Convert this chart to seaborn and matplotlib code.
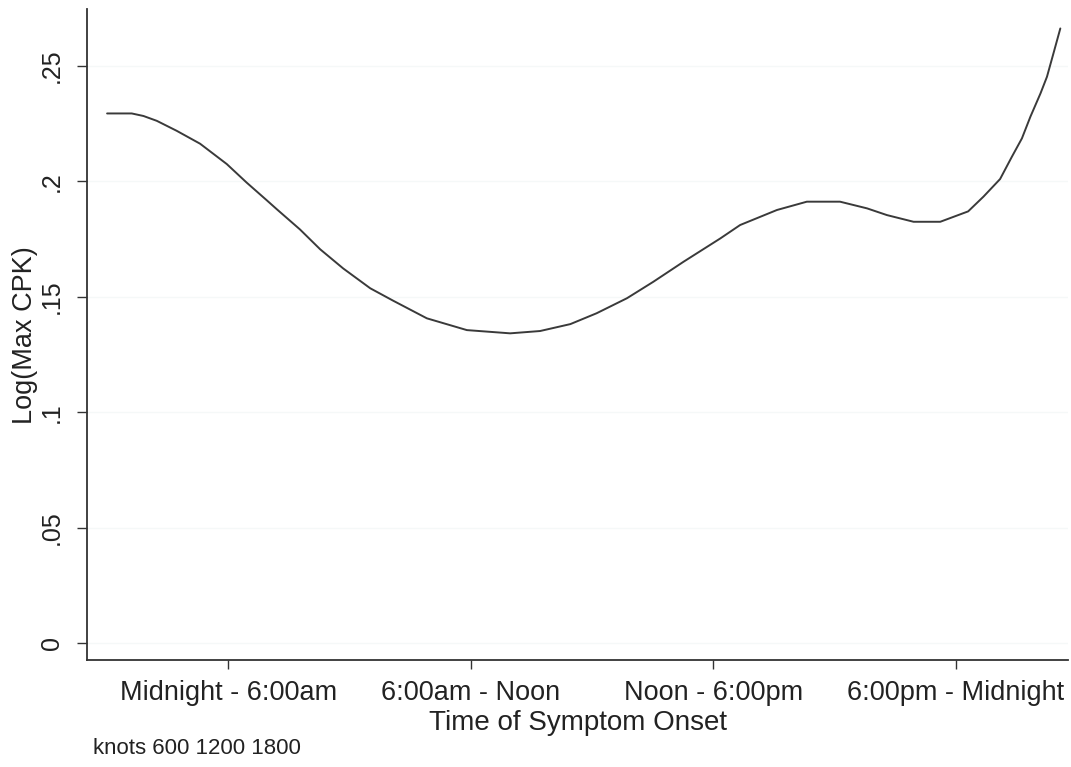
import matplotlib
matplotlib.use("Agg")
import matplotlib.pyplot as plt
import seaborn as sns
import pandas as pd

# Fitted spline: time of symptom onset (hhmm clock) vs predicted log(max CPK)
onset_time = [0, 61, 90, 123, 172, 230, 296, 345, 395, 420, 477, 527, 584,
              651, 708, 791, 890, 997, 1071, 1146, 1211, 1286, 1351, 1426,
              1517, 1566, 1657, 1731, 1813, 1880, 1929, 1995, 2061, 2130,
              2168, 2209, 2238, 2263, 2284, 2309, 2325, 2341, 2358]
log_max_cpk = [0.2294, 0.2294, 0.2283, 0.2262, 0.2219, 0.2163, 0.2075,
               0.1995, 0.1918, 0.1879, 0.1792, 0.1706, 0.1623, 0.1537,
               0.1483, 0.1407, 0.1356, 0.1342, 0.1352, 0.1382, 0.1429,
               0.1494, 0.1565, 0.1652, 0.1753, 0.1811, 0.1876, 0.1912,
               0.1912, 0.1883, 0.1854, 0.1825, 0.1825, 0.1870, 0.1934,
               0.2010, 0.2106, 0.2186, 0.2280, 0.2381, 0.2453, 0.2554,
               0.2662]

period_ticks = [300, 900, 1500, 2100]
period_labels = ["Midnight - 6:00am", "6:00am - Noon", "Noon - 6:00pm",
                 "6:00pm - Midnight"]
y_ticks = [0, 0.05, 0.10, 0.15, 0.20, 0.25]
y_tick_labels = ["0", ".05", ".1", ".15", ".2", ".25"]
knots = [600, 1200, 1800]

df = pd.DataFrame({"onset": onset_time, "cpk": log_max_cpk})

sns.set_theme(style="white")
plt.rcParams["font.family"] = ["Liberation Sans", "DejaVu Sans"]

text_color = "#222222"
fig = plt.figure(figsize=(10.71, 7.67), dpi=100)
ax = fig.add_axes([0.0815, 0.1395, 0.9157, 0.8484])

# faint horizontal rules at each y tick
for yv in y_ticks:
    ax.axhline(yv, color="#f5f8f8", lw=1.0, zorder=0)

sns.lineplot(data=df, x="onset", y="cpk", ax=ax, color="#3a3a3a", lw=1.4,
             zorder=3)

ax.set_xlim(-49, 2377)
ax.set_ylim(-0.00723, 0.2745)

ax.set_xticks(period_ticks)
ax.set_xticklabels(period_labels, fontsize=19.5, color=text_color)
ax.set_yticks(y_ticks)
ax.set_yticklabels(y_tick_labels, fontsize=18, color=text_color,
                   rotation=90, va="center")

ax.tick_params(axis="x", direction="out", length=6.5, width=1.0,
               color="#333333", pad=8, bottom=True)
ax.tick_params(axis="y", direction="out", length=7, width=1.0,
               color="#333333", pad=10, left=True)

ax.set_xlabel("Time of Symptom Onset", fontsize=20, color=text_color,
              labelpad=3)
ax.set_ylabel("Log(Max CPK)", fontsize=19.5, color=text_color, labelpad=1)

for side in ["top", "right"]:
    ax.spines[side].set_visible(False)
for side in ["left", "bottom"]:
    ax.spines[side].set_color("#333333")
    ax.spines[side].set_linewidth(1.3)

fig.text(93 / 1071, 1 - 749 / 767,
         "knots " + " ".join(str(k) for k in knots),
         fontsize=16, color=text_color, ha="left", va="center")

fig.savefig("out.png", dpi=100)
